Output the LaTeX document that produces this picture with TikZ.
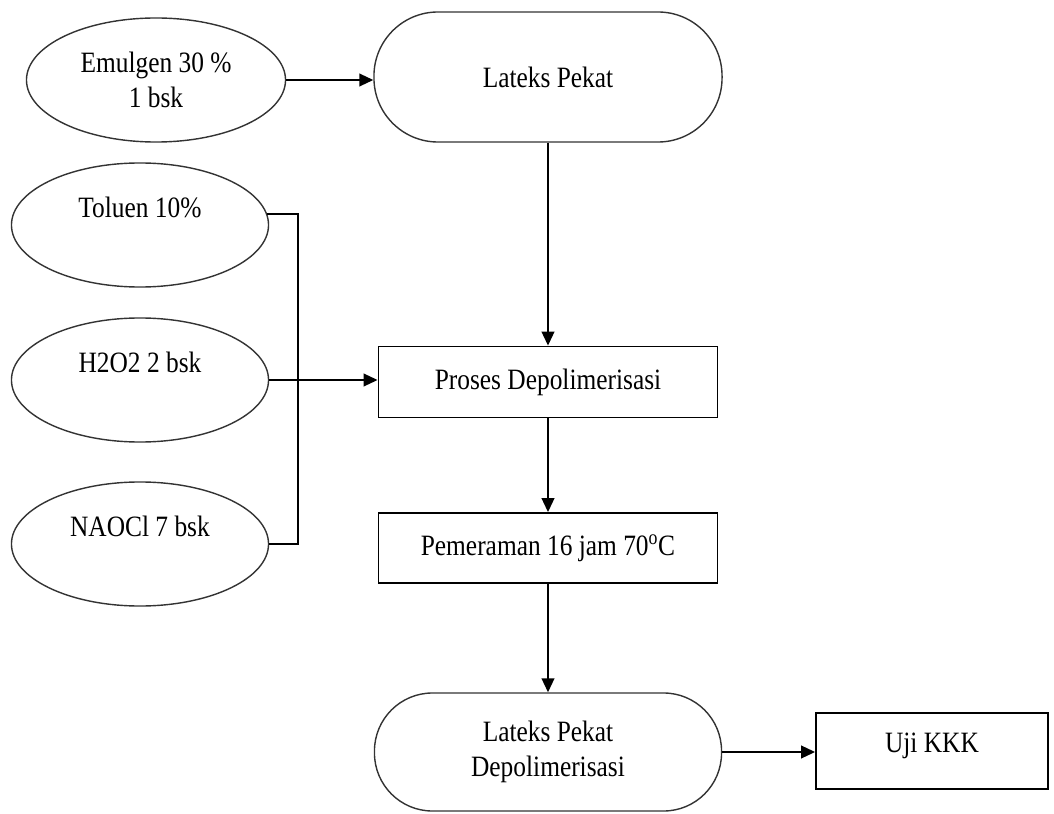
\documentclass[tikz,border=0pt]{standalone}
\usepackage{fontspec}
\setmainfont{Liberation Serif}[FakeStretch=0.86]
\usetikzlibrary{shapes.geometric,arrows.meta}

\begin{document}
\begin{tikzpicture}[x=0.025cm, y=-0.025cm, >={Triangle[length=0.35cm,width=0.32cm]},
    every node/.style={font=\fontsize{21}{25}\selectfont, align=center, inner sep=0pt},
    bahan/.style={ellipse, draw=black!80, line width=1pt, minimum width=6.425cm, minimum height=3.1cm},
    hasil/.style={rectangle, draw=black!80, line width=1pt, minimum width=8.7cm, rounded corners=1.6cm},
    langkah/.style={rectangle, draw, line width=1.3pt, minimum width=8.475cm, minimum height=1.75cm},
    alur/.style={->, line width=1.2pt}]
    \useasboundingbox (0,0) rectangle (1054,814);
    % bahan tambahan
    \node[bahan, minimum width=6.475cm] (emulgen) at (156,80) {Emulgen 30 \%\\1 bsk};
    \node[bahan] (toluen) at (140,225) {Toluen 10\%\\\mbox{}};
    \node[bahan] (h2o2) at (140,380) {H2O2 2 bsk\\\mbox{}};
    \node[bahan] (naocl) at (140,544) {NAOCl 7 bsk\\\mbox{}};
    \coordinate (bus) at (298,0);
    % alur utama
    \node[hasil, minimum height=3.25cm] (lateks) at (548,77) {Lateks Pekat};
    \node[langkah, minimum height=1.775cm] (proses) at (548,382) {Proses Depolimerisasi};
    \node[langkah] (peram) at (548,548) {Pemeraman 16 jam 70\textsuperscript{o}C};
    \node[hasil, minimum width=8.675cm, minimum height=2.95cm, rounded corners=1.45cm] (lateksdp) at (548,752) {Lateks Pekat\\Depolimerisasi};
    \node[langkah, minimum width=5.8cm, minimum height=1.9cm, text depth=0.4cm] (uji) at (932,751) {Uji KKK};
    % panah
    \draw[alur] (emulgen.east) -- (emulgen.east -| lateks.west);
    \draw[alur] (lateks.south) -- (proses.north);
    \draw[line width=1.2pt] (toluen.5) -| (bus |- naocl.east) -- (naocl.east);
    \draw[alur] (h2o2.east) -- (proses.west |- h2o2.east);
    \draw[alur] (proses.south) -- (peram.north);
    \draw[alur] (peram.south) -- (lateksdp.north);
    \draw[alur] (lateksdp.east) -- (uji.west |- lateksdp.east);
\end{tikzpicture}
\end{document}
